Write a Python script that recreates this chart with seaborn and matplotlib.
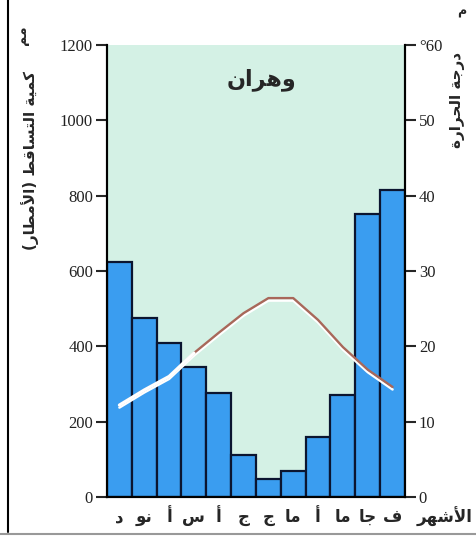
import numpy as np
import pandas as pd
import seaborn as sns
import matplotlib.pyplot as plt
import matplotlib.patheffects as pe
from matplotlib.lines import Line2D

# data (left to right as printed)
months = ['د', 'نو', 'أ', 'س', 'أ', 'ج', 'ج', 'ما', 'أ', 'ما', 'جا', 'ف']
rain = [625, 475, 410, 345, 275, 112, 48, 70, 158, 272, 752, 815]
temp = [12.2, 14.2, 16.0, 19.1, 21.8, 24.4, 26.4, 26.4, 23.5, 19.9, 16.9, 14.6]
rain_ticks = [0, 200, 400, 600, 800, 1000, 1200]
temp_ticks = [0, 10, 20, 30, 40, 50, 60]
temp_labels = ['0', '10', '20', '30', '40', '50', '°60']

title = 'وهران'
left_label = 'كمية التساقط (الأمطار)'
right_label = 'درجة الحرارة'
x_label = 'الأشهر'

# arabic presentation forms (isolated, final, initial, medial)
FORMS = {
    'ا': ('\ufe8d', '\ufe8e'), 'أ': ('\ufe83', '\ufe84'),
    'ة': ('\ufe93', '\ufe94'), 'د': ('\ufea9', '\ufeaa'),
    'ر': ('\ufead', '\ufeae'), 'و': ('\ufeed', '\ufeee'),
    'لا': ('\ufefb', '\ufefc'), 'لأ': ('\ufef7', '\ufef8'),
    'ت': ('\ufe95', '\ufe96', '\ufe97', '\ufe98'),
    'ج': ('\ufe9d', '\ufe9e', '\ufe9f', '\ufea0'),
    'ح': ('\ufea1', '\ufea2', '\ufea3', '\ufea4'),
    'س': ('\ufeb1', '\ufeb2', '\ufeb3', '\ufeb4'),
    'ش': ('\ufeb5', '\ufeb6', '\ufeb7', '\ufeb8'),
    'ط': ('\ufec1', '\ufec2', '\ufec3', '\ufec4'),
    'ف': ('\ufed1', '\ufed2', '\ufed3', '\ufed4'),
    'ق': ('\ufed5', '\ufed6', '\ufed7', '\ufed8'),
    'ك': ('\ufed9', '\ufeda', '\ufedb', '\ufedc'),
    'ل': ('\ufedd', '\ufede', '\ufedf', '\ufee0'),
    'م': ('\ufee1', '\ufee2', '\ufee3', '\ufee4'),
    'ن': ('\ufee5', '\ufee6', '\ufee7', '\ufee8'),
    'ه': ('\ufee9', '\ufeea', '\ufeeb', '\ufeec'),
    'ي': ('\ufef1', '\ufef2', '\ufef3', '\ufef4'),
}
MIRROR = {'(': ')', ')': '('}


def shape(text):
    # join letters and flip to visual order (matplotlib has no bidi)
    toks = []
    i = 0
    while i < len(text):
        if text[i] == 'ل' and i + 1 < len(text) and text[i + 1] in 'اأ':
            toks.append(text[i:i + 2])
            i += 2
        else:
            toks.append(text[i])
            i += 1
    out = []
    for k, t in enumerate(toks):
        f = FORMS.get(t)
        if f is None:
            out.append(MIRROR.get(t, t))
            continue
        prev = k > 0 and toks[k - 1] in FORMS and len(FORMS[toks[k - 1]]) == 4
        nxt = len(f) == 4 and k + 1 < len(toks) and toks[k + 1] in FORMS
        if prev and nxt:
            out.append(f[3])
        elif prev:
            out.append(f[1])
        elif nxt:
            out.append(f[2])
        else:
            out.append(f[0])
    return ''.join(out[::-1])


sns.set_style('white')
plt.rcParams['font.family'] = ['DejaVu Sans']
serif = 'Liberation Serif'

fig = plt.figure(figsize=(4.77, 5.36), dpi=100)
ax = fig.add_axes([0.2243, 0.0728, 0.6247, 0.8433])
ax.set_facecolor('#d4f1e5')

x = np.arange(len(months))
sns.barplot(x=x, y=rain, width=1.0, color='#3a9df0', saturation=1,
            edgecolor='#0b1530', linewidth=1.6, ax=ax)
ax.set_xlim(-0.5, 11.5)
ax.set_ylim(0, 1200)
ax.set_yticks(rain_ticks)
ax.set_yticklabels([str(v) for v in rain_ticks], fontfamily=serif, fontsize=12, color='#222222')
ax.set_xticks(x)
ax.set_xticklabels([shape(m) for m in months], fontsize=12, fontweight='bold')
ax.set_xticks(np.arange(-0.5, 12, 1), minor=True)
ax.tick_params(axis='x', which='major', length=0, pad=8)
ax.tick_params(axis='x', which='minor', length=7, width=1.3, direction='out')
ax.tick_params(axis='y', length=8, width=1.5, direction='out', pad=2)
ax.set_xlabel('')
ax.set_ylabel('')
for s in ['left', 'right', 'bottom']:
    ax.spines[s].set_color('black')
    ax.spines[s].set_linewidth(1.5)
ax.spines['top'].set_visible(False)

ax2 = ax.twinx()
sns.lineplot(x=x, y=temp, ax=ax2, color='#a8685a', linewidth=1.7,
             path_effects=[pe.SimpleLineShadow(offset=(0, -1.8), shadow_color='white',
                                               alpha=1, linewidth=1.8),
                           pe.Normal()])
sns.lineplot(x=x[:4], y=temp[:4], ax=ax2, color='white', linewidth=2.3)
ax2.set_ylim(0, 60)
ax2.set_yticks(temp_ticks)
ax2.set_yticklabels(temp_labels, fontfamily=serif, fontsize=12, color='#222222')
ax2.tick_params(axis='y', length=8, width=1.5, direction='out', pad=2)
ax2.set_ylabel('')
for s in ['left', 'right', 'bottom']:
    ax2.spines[s].set_color('black')
    ax2.spines[s].set_linewidth(1.5)
ax2.spines['top'].set_visible(False)

# texts
W, H = 477, 536
fig.text(262 / W, 1 - 80 / H, shape(title), ha='center', va='center', fontsize=16, fontweight='bold')
fig.text(30 / W, 1 - 160 / H, shape(left_label), rotation=90, ha='center', va='center',
         fontsize=11, fontweight='bold')
fig.text(22 / W, 1 - 35 / H, shape('مم'), rotation=90, ha='center', va='center', fontsize=10, fontweight='bold')
fig.text(458 / W, 1 - 100 / H, shape(right_label), rotation=90, ha='center', va='center',
         fontsize=11, fontweight='bold')
fig.text(462 / W, 1 - 12 / H, shape('م'), ha='center', va='center', fontsize=9, fontweight='bold')
fig.text(445 / W, 1 - 517 / H, shape(x_label), ha='center', va='center', fontsize=12, fontweight='bold')

# page frame
fig.add_artist(Line2D([8 / W, 8 / W], [4 / H, 1], color='black', lw=1.5))
fig.add_artist(Line2D([0, 1], [2 / H, 2 / H], color='#999999', lw=1.5))

fig.savefig('out.png', dpi=100)
